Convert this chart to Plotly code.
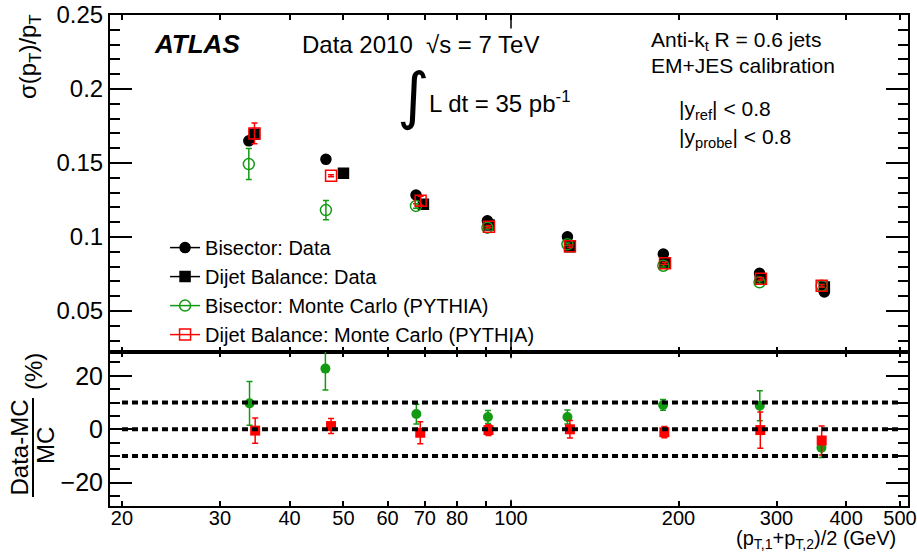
import plotly.graph_objects as go
from plotly.subplots import make_subplots

# top panel: jet pT resolution vs average pT (GeV)
bis_data_pt = [33.8, 46.5, 67.5, 90.7, 126.3, 187.8, 279.6, 365.6]
bis_data_res = [0.165, 0.1525, 0.1284, 0.111, 0.1002, 0.0885, 0.0755, 0.0629]
dij_data_pt = [34.6, 50.0, 69.6, 91.3, 127.6, 189.1, 280.5, 365.6]
dij_data_res = [0.1694, 0.143, 0.1221, 0.1081, 0.0934, 0.0826, 0.0716, 0.0662]
bis_mc_pt = [33.8, 46.5, 67.5, 90.7, 126.3, 187.8, 279.6, 361.6]
bis_mc_res = [0.1493, 0.1182, 0.121, 0.1063, 0.0951, 0.0806, 0.0694, 0.0671]
bis_mc_err = [0.0105, 0.0065, 0.0015, 0.0008, 0.0008, 0.0008, 0.0008, 0.0008]
dij_mc_pt = [34.6, 47.5, 68.8, 91.3, 127.6, 189.1, 281.3, 361.6]
dij_mc_res = [0.170, 0.1414, 0.1245, 0.107, 0.0938, 0.0822, 0.0718, 0.0671]
dij_mc_err = [0.007, 0.0006, 0.003, 0.0008, 0.0008, 0.0008, 0.0008, 0.0008]

# bottom panel: (Data-MC)/MC in %
bis_ratio_pt = [33.9, 46.4, 67.6, 90.9, 126.3, 187.6, 279.9, 361.2]
bis_ratio = [9.7, 22.7, 5.7, 4.6, 4.6, 9.1, 8.8, -6.9]
bis_ratio_err = [8.2, 8.0, 3.7, 2.4, 2.6, 2.0, 5.6, 3.7]
dij_ratio_pt = [34.7, 47.5, 68.7, 91.1, 127.6, 188.6, 280.5, 361.6]
dij_ratio = [-0.5, 1.2, -1.3, -0.3, 0.0, -1.1, -0.3, -4.2]
dij_ratio_err = [4.7, 2.8, 4.1, 2.0, 3.3, 2.1, 6.8, 5.4]

ref_lines = [-10, 0, 10]
x_ticks = [20, 30, 40, 50, 60, 70, 80, 90, 100, 200, 300, 400, 500]
x_ticktext = ['20', '30', '40', '50', '60', '70', '80', ' ', '100', '200', '300', '400', '500']

FONT = 'Liberation Sans, Arial, sans-serif'
GREEN = '#139a13'
RED = '#ff0000'


def gapped(vals):
    # put a gap after every point so "lines+markers" draws no connecting line
    # but the legend still shows the ROOT-style line+marker key
    out = []
    for v in vals:
        out += [v, None]
    return out


fig = make_subplots(rows=2, cols=1, shared_xaxes=True, vertical_spacing=0,
                    row_heights=[0.6864, 0.3136])

top = [
    ('Bisector: Data', bis_data_pt, bis_data_res, None, 'circle', 'black'),
    ('Dijet Balance: Data', dij_data_pt, dij_data_res, None, 'square', 'black'),
    ('Bisector: Monte Carlo (PYTHIA)', bis_mc_pt, bis_mc_res, bis_mc_err, 'circle-open', GREEN),
    ('Dijet Balance: Monte Carlo (PYTHIA)', dij_mc_pt, dij_mc_res, dij_mc_err, 'square-open', RED),
]
for name, x, y, err, sym, col in top:
    tr = go.Scatter(x=gapped(x), y=gapped(y), mode='lines+markers', name=name,
                    connectgaps=False, line=dict(color=col, width=1.5),
                    marker=dict(symbol=sym, size=11 if 'open' in sym else 10, color=col,
                                line=dict(color=col, width=1.5)))
    if err is not None:
        tr.error_y = dict(type='data', array=gapped(err), color=col, thickness=1.5, width=3)
    fig.add_trace(tr, row=1, col=1)

fig.add_trace(go.Scatter(x=bis_ratio_pt, y=bis_ratio, mode='markers', showlegend=False,
                         marker=dict(symbol='circle', size=10, color=GREEN),
                         error_y=dict(type='data', array=bis_ratio_err, color=GREEN,
                                      thickness=1.5, width=3)), row=2, col=1)
fig.add_trace(go.Scatter(x=dij_ratio_pt, y=dij_ratio, mode='markers', showlegend=False,
                         marker=dict(symbol='square', size=10, color=RED),
                         error_y=dict(type='data', array=dij_ratio_err, color=RED,
                                      thickness=1.5, width=3)), row=2, col=1)

for v in ref_lines:
    fig.add_shape(type='line', xref='x2', yref='y2', x0=20, x1=500, y0=v, y1=v,
                  line=dict(color='black', width=4, dash='6px,4px'))

# longer decade tick at 100 on every horizontal frame edge
for xa, ya in [('x', 'y'), ('x2', 'y2')]:
    for y0, y1 in [(0, 0.04), (0.96, 1)]:
        fig.add_shape(type='line', xref=xa, yref=ya + ' domain', x0=100, x1=100, y0=y0, y1=y1,
                      line=dict(color='black', width=1.5))

# fraction bar of the lower y title
fig.add_shape(type='line', xref='paper', yref='paper', x0=-0.0965, x1=-0.0965,
              y0=0.0183, y1=0.2200, line=dict(color='black', width=2))

axis_common = dict(showline=True, linecolor='black', linewidth=2, mirror='allticks',
                   ticks='inside', tickcolor='black', showgrid=False, zeroline=False,
                   automargin=False)
xrange = [1.2795, 2.7133]
fig.update_xaxes(type='log', range=xrange, tickmode='array', tickvals=x_ticks,
                 ticktext=x_ticktext, ticklen=5, tickwidth=1.5, **axis_common)
fig.update_xaxes(showticklabels=False, row=1, col=1)
fig.update_xaxes(showticklabels=True, ticklabelstandoff=-7,
                 tickfont=dict(family=FONT, size=20, color='black'), row=2, col=1)
fig.update_yaxes(range=[0.0223, 0.25], tick0=0, dtick=0.05, ticklen=22, tickwidth=1.5,
                 tickfont=dict(family=FONT, size=24, color='black'),
                 minor=dict(dtick=0.01, tick0=0, ticks='inside', ticklen=10,
                            tickcolor='black', tickwidth=1.5, showgrid=False),
                 row=1, col=1, **axis_common)
fig.update_yaxes(range=[-28.7, 28.9], tickmode='array', tickvals=[-20, 0, 20],
                 ticklen=22, tickwidth=1.5,
                 tickfont=dict(family=FONT, size=25, color='black'),
                 minor=dict(tickmode='linear', dtick=5, tick0=0, ticks='inside', ticklen=10,
                            tickcolor='black', tickwidth=1.5, showgrid=False),
                 row=2, col=1, **axis_common)


def note(text, x, y, size, xanchor='left', angle=0, family=FONT):
    fig.add_annotation(text=text, x=x, y=y, xref='paper', yref='paper', showarrow=False,
                       xanchor=xanchor, yanchor='middle', textangle=angle,
                       font=dict(family=family, size=size, color='black'))


note('<b><i>ATLAS</i></b>', 0.0526, 0.941, 26)
note('Data 2010', 0.238, 0.939, 24)
note('\u221as = 7 TeV', 0.3935, 0.939, 24)
note('\u222b', 0.357, 0.836, 62, family='DejaVu Sans')
note('L dt = 35 pb<sup>-1</sup>', 0.3972, 0.8228, 24)
note('Anti-k<sub>t</sub> R = 0.6 jets', 0.6754, 0.947, 21)
note('EM+JES calibration', 0.6754, 0.898, 21)
note('|y<sub>ref</sub>| < 0.8', 0.7105, 0.8065, 21)
note('|y<sub>probe</sub>| < 0.8', 0.7105, 0.7495, 21)
note('\u03c3(p<sub>T</sub>)/p<sub>T</sub>', -0.1003, 0.9165, 24, 'center', -90)
note('Data-MC', -0.1128, 0.1191, 24, 'center', -90)
note('MC', -0.0815, 0.1242, 24, 'center', -90)
note('(%)', -0.0965, 0.2749, 24, 'center', -90)
note('(p<sub>T,1</sub>+p<sub>T,2</sub>)/2 (GeV)', 0.9875, -0.0692, 20, 'right')

fig.update_layout(
    width=917, height=558,
    margin=dict(l=110, r=9, t=15, b=52),
    paper_bgcolor='white', plot_bgcolor='white',
    font=dict(family=FONT, color='black'),
    legend=dict(x=0.069, y=0.566, xanchor='left', yanchor='top',
                bgcolor='rgba(0,0,0,0)', font=dict(family=FONT, size=20, color='black')),
)

fig.write_html("out.html", config={'displayModeBar': False},
               post_script="document.body.style.margin='0';document.body.style.overflow='hidden';")
